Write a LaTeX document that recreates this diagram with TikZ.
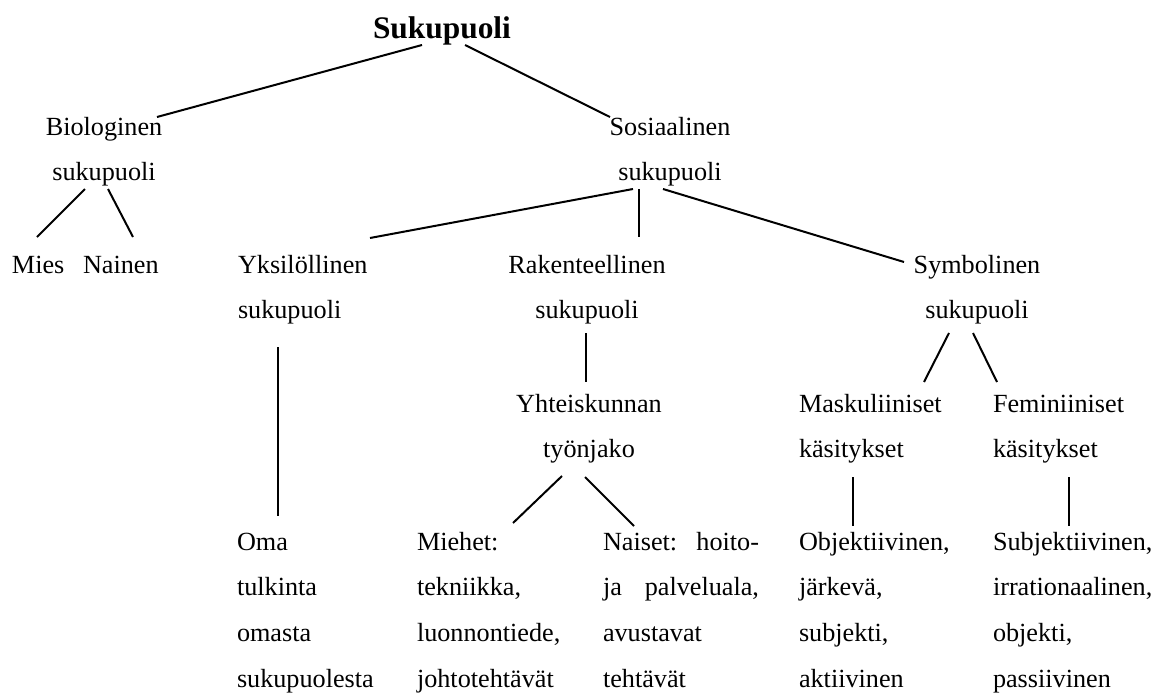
\documentclass[tikz,border=0pt]{standalone}
\usepackage{fontspec}
\setmainfont{Liberation Serif}
\newcommand\leftlines[1]{\begin{tabular}[t]{@{}l@{}}#1\end{tabular}}
\newcommand\midlines[1]{\begin{tabular}[t]{@{}c@{}}#1\end{tabular}}
\begin{document}
\begin{tikzpicture}[x=1pt,y=-1pt,
  lbl/.style={inner sep=0pt,outer sep=0pt,font=\fontsize{26.2}{45.8}\selectfont},
  lblw/.style={lbl,anchor=base west},
  lblc/.style={lbl,anchor=base},
  edge/.style={line width=2pt}]
\useasboundingbox (0,0) rectangle (1157,693);

% ---- text ----
\node[lblc,font=\fontsize{31.4}{36}\selectfont\bfseries] (root) at (442,39) {Sukupuoli};

\node[lblc] (bio) at (104,135) {\midlines{Biologinen\\sukupuoli}};
\node[lblc] (sos) at (670,135) {\midlines{Sosiaalinen\\sukupuoli}};

\node[lblw] (mies) at (12,273) {Mies};
\node[lblw] (nain) at (83,273) {Nainen};
\node[lblw] (yks) at (238,273) {\leftlines{Yksilöllinen\\sukupuoli}};
\node[lblc] (rak) at (587,273) {\midlines{Rakenteellinen\\sukupuoli}};
\node[lblc] (sym) at (977,273) {\midlines{Symbolinen\\sukupuoli}};

\node[lblc] (yht) at (589,412) {\midlines{Yhteiskunnan\\työnjako}};
\node[lblw] (mask) at (799,412) {\leftlines{Maskuliiniset\\käsitykset}};
\node[lblw] (fem) at (993,412) {\leftlines{Feminiiniset\\käsitykset}};

\node[lblw] (oma) at (237,550) {\leftlines{Oma\\tulkinta\\omasta\\sukupuolesta}};
\node[lblw] (mieh) at (417,550) {\leftlines{Miehet:\\tekniikka,\\luonnontiede,\\johtotehtävät}};
\node[lblw] (nais) at (603,550) {\leftlines{\hbox to 156pt{Naiset:\hfill hoito-}\\\hbox to 156pt{ja\hfill palveluala,}\\avustavat\\tehtävät}};
\node[lblw] (obj) at (799,550) {\leftlines{Objektiivinen,\\järkevä,\\subjekti,\\aktiivinen}};
\node[lblw] (subj) at (993,550) {\leftlines{Subjektiivinen,\\irrationaalinen,\\objekti,\\passiivinen}};

% ---- connector end points ----
\coordinate (root-l) at (422,45);
\coordinate (root-r) at (465,45);
\coordinate (bio-in) at (157,117);
\coordinate (sos-in) at (610,117);
\coordinate (bio-l) at (85,189);
\coordinate (bio-r) at (108,189);
\coordinate (mies-in) at (37,237);
\coordinate (nain-in) at (133,237);
\coordinate (sos-l) at (633,189);
\coordinate (sos-m) at (639,189);
\coordinate (sos-r) at (663,189);
\coordinate (yks-in) at (370,238);
\coordinate (rak-in) at (639,237);
\coordinate (sym-in) at (904,262);
\coordinate (yks-out) at (278,347);
\coordinate (oma-in) at (278,516);
\coordinate (rak-out) at (586,333);
\coordinate (yht-in) at (586,382);
\coordinate (sym-l) at (949,333);
\coordinate (sym-r) at (973,333);
\coordinate (mask-in) at (924,382);
\coordinate (fem-in) at (997,382);
\coordinate (yht-l) at (562,476);
\coordinate (yht-r) at (585,477);
\coordinate (mieh-in) at (513,523);
\coordinate (nais-in) at (634,526);
\coordinate (mask-out) at (853,477);
\coordinate (obj-in) at (853,526);
\coordinate (fem-out) at (1069,477);
\coordinate (subj-in) at (1069,526);

% ---- connectors ----
\draw[edge] (root-l) -- (bio-in);
\draw[edge] (root-r) -- (sos-in);
\draw[edge] (bio-l) -- (mies-in);
\draw[edge] (bio-r) -- (nain-in);
\draw[edge] (sos-l) -- (yks-in);
\draw[edge] (sos-m) -- (rak-in);
\draw[edge] (sos-r) -- (sym-in);
\draw[edge] (yks-out) -- (oma-in);
\draw[edge] (rak-out) -- (yht-in);
\draw[edge] (sym-l) -- (mask-in);
\draw[edge] (sym-r) -- (fem-in);
\draw[edge] (yht-l) -- (mieh-in);
\draw[edge] (yht-r) -- (nais-in);
\draw[edge] (mask-out) -- (obj-in);
\draw[edge] (fem-out) -- (subj-in);
\end{tikzpicture}
\end{document}
